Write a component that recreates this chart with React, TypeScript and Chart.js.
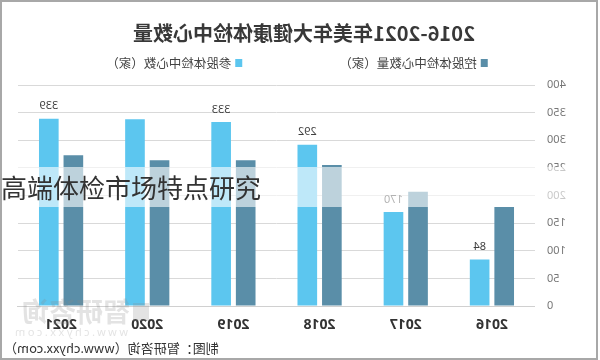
import React, { useEffect, useRef } from 'react';
import { Chart, registerables } from 'chart.js';

Chart.register(...registerables);

const TITLE = '2016-2021年美年大健康体检中心数量';
const OVERLAY_TEXT = '高端体检市场特点研究';
const SOURCE_TEXT = '制图：智研咨询（www.chyxx.com）';
const WATERMARK = '智研咨询';
const WATERMARK_URL = 'www.chyxx.com';

const years = ['2016', '2017', '2018', '2019', '2020', '2021'];
const holdingLabel = '控股体检中心数量（家）';
const shareLabel = '参股体检中心数（家）';
const holdingCenters = [179, 207, 255, 264, 264, 273];
const shareCenters = [84, 170, 292, 333, 338, 339];
const shareValueLabels = ['84', '170', '292', '333', null, '339'];
const yMax = 400;
const yStep = 50;

const DARK = '#5a8ea8';
const LIGHT = '#5cc6ef';
const CJK = '"Noto Sans CJK SC", "Noto Sans", sans-serif';

const decorPlugin = {
  id: 'decor',
  afterDatasetsDraw(chart: any) {
    const ctx = chart.ctx;
    const meta = chart.getDatasetMeta(1);
    ctx.save();
    ctx.font = '11px "Noto Sans", sans-serif';
    ctx.fillStyle = '#404040';
    ctx.textAlign = 'center';
    ctx.textBaseline = 'bottom';
    meta.data.forEach((bar: any, i: number) => {
      const t = shareValueLabels[i];
      if (t) ctx.fillText(t, bar.x, bar.y - 7);
    });
    ctx.restore();
  },
  afterDraw(chart: any) {
    const ctx = chart.ctx;
    ctx.save();
    // title
    ctx.font = 'bold 20px ' + CJK;
    ctx.fillStyle = '#383838';
    ctx.textAlign = 'center';
    ctx.textBaseline = 'middle';
    ctx.fillText(TITLE, 296, 33);

    // legend
    ctx.font = '12.5px ' + CJK;
    const items = [
      { color: DARK, text: holdingLabel },
      { color: LIGHT, text: shareLabel },
    ];
    const gap = 97;
    const widths = items.map((it) => 11 + ctx.measureText(it.text).width);
    const total = widths[0] + widths[1] + gap;
    let x = 303 - total / 2;
    ctx.textAlign = 'left';
    items.forEach((it, i) => {
      ctx.fillStyle = it.color;
      ctx.fillRect(x, 59, 7, 8);
      ctx.fillStyle = '#444444';
      ctx.fillText(it.text, x + 11, 63);
      x += widths[i] + gap;
    });

    // watermark
    ctx.fillStyle = 'rgba(140,140,140,0.24)';
    ctx.font = 'bold 27px ' + CJK;
    ctx.textAlign = 'left';
    ctx.fillText(WATERMARK, 470, 312);
    ctx.fillRect(451, 303, 16, 18);
    ctx.font = '11px "Noto Sans", sans-serif';
    (ctx as any).letterSpacing = '2.5px';
    ctx.fillText(WATERMARK_URL, 472, 333);
    (ctx as any).letterSpacing = '0px';

    // source
    ctx.fillStyle = '#333333';
    ctx.font = '13px ' + CJK;
    ctx.textAlign = 'right';
    ctx.fillText(SOURCE_TEXT, 596, 348);
    ctx.restore();
  },
};

export default function App() {
  const ref = useRef<HTMLCanvasElement>(null);
  useEffect(() => {
    if (!ref.current) return;
    const chart = new Chart(ref.current, {
      type: 'bar',
      data: {
        labels: years,
        datasets: [
          { label: holdingLabel, data: holdingCenters, backgroundColor: DARK },
          { label: shareLabel, data: shareCenters, backgroundColor: LIGHT },
        ],
      },
      options: {
        responsive: false,
        animation: false,
        devicePixelRatio: 1,
        layout: { padding: { top: 85, right: 18, bottom: 0, left: 0 } },
        datasets: { bar: { categoryPercentage: 0.57, barPercentage: 0.8 } },
        plugins: {
          legend: { display: false },
          title: { display: false },
          tooltip: { enabled: false },
        },
        scales: {
          x: {
            grid: { display: false, drawTicks: false },
            border: { display: true, color: '#d0d0d0' },
            ticks: {
              padding: 11,
              color: '#333333',
              font: { family: '"Noto Sans", sans-serif', size: 14, weight: 'bold' },
            },
            afterFit: (s: any) => {
              s.height = 54;
            },
          },
          y: {
            min: 0,
            max: yMax,
            ticks: {
              stepSize: yStep,
              padding: 12,
              color: '#777777',
              font: { family: '"Noto Sans", sans-serif', size: 11 },
            },
            grid: { color: '#d9d9d9', drawTicks: false },
            border: { display: false },
            afterFit: (s: any) => {
              s.width = 65;
            },
          },
        },
      },
      plugins: [decorPlugin],
    });
    return () => chart.destroy();
  }, []);

  return (
    <div
      style={{
        position: 'fixed',
        left: 0,
        top: 0,
        width: 600,
        height: 360,
        background: '#ffffff',
        overflow: 'hidden',
      }}
    >
      <canvas
        ref={ref}
        width={600}
        height={360}
        style={{ position: 'absolute', left: 0, top: 0, width: 600, height: 360, transform: 'scaleX(-1)' }}
      />
      <div
        style={{
          position: 'absolute',
          left: 0,
          top: 167,
          width: 600,
          height: 40,
          background: 'rgba(255,255,255,0.6)',
        }}
      />
      <div
        style={{
          position: 'absolute',
          left: 1,
          top: 167,
          height: 40,
          lineHeight: '40px',
          fontFamily: CJK,
          fontSize: 26,
          color: '#333333',
          whiteSpace: 'nowrap',
        }}
      >
        {OVERLAY_TEXT}
      </div>
      <div
        style={{
          position: 'absolute',
          left: 0,
          top: 0,
          width: 598,
          height: 360,
          boxSizing: 'border-box',
          border: '2px solid #a8a8a8',
          pointerEvents: 'none',
        }}
      />
    </div>
  );
}
